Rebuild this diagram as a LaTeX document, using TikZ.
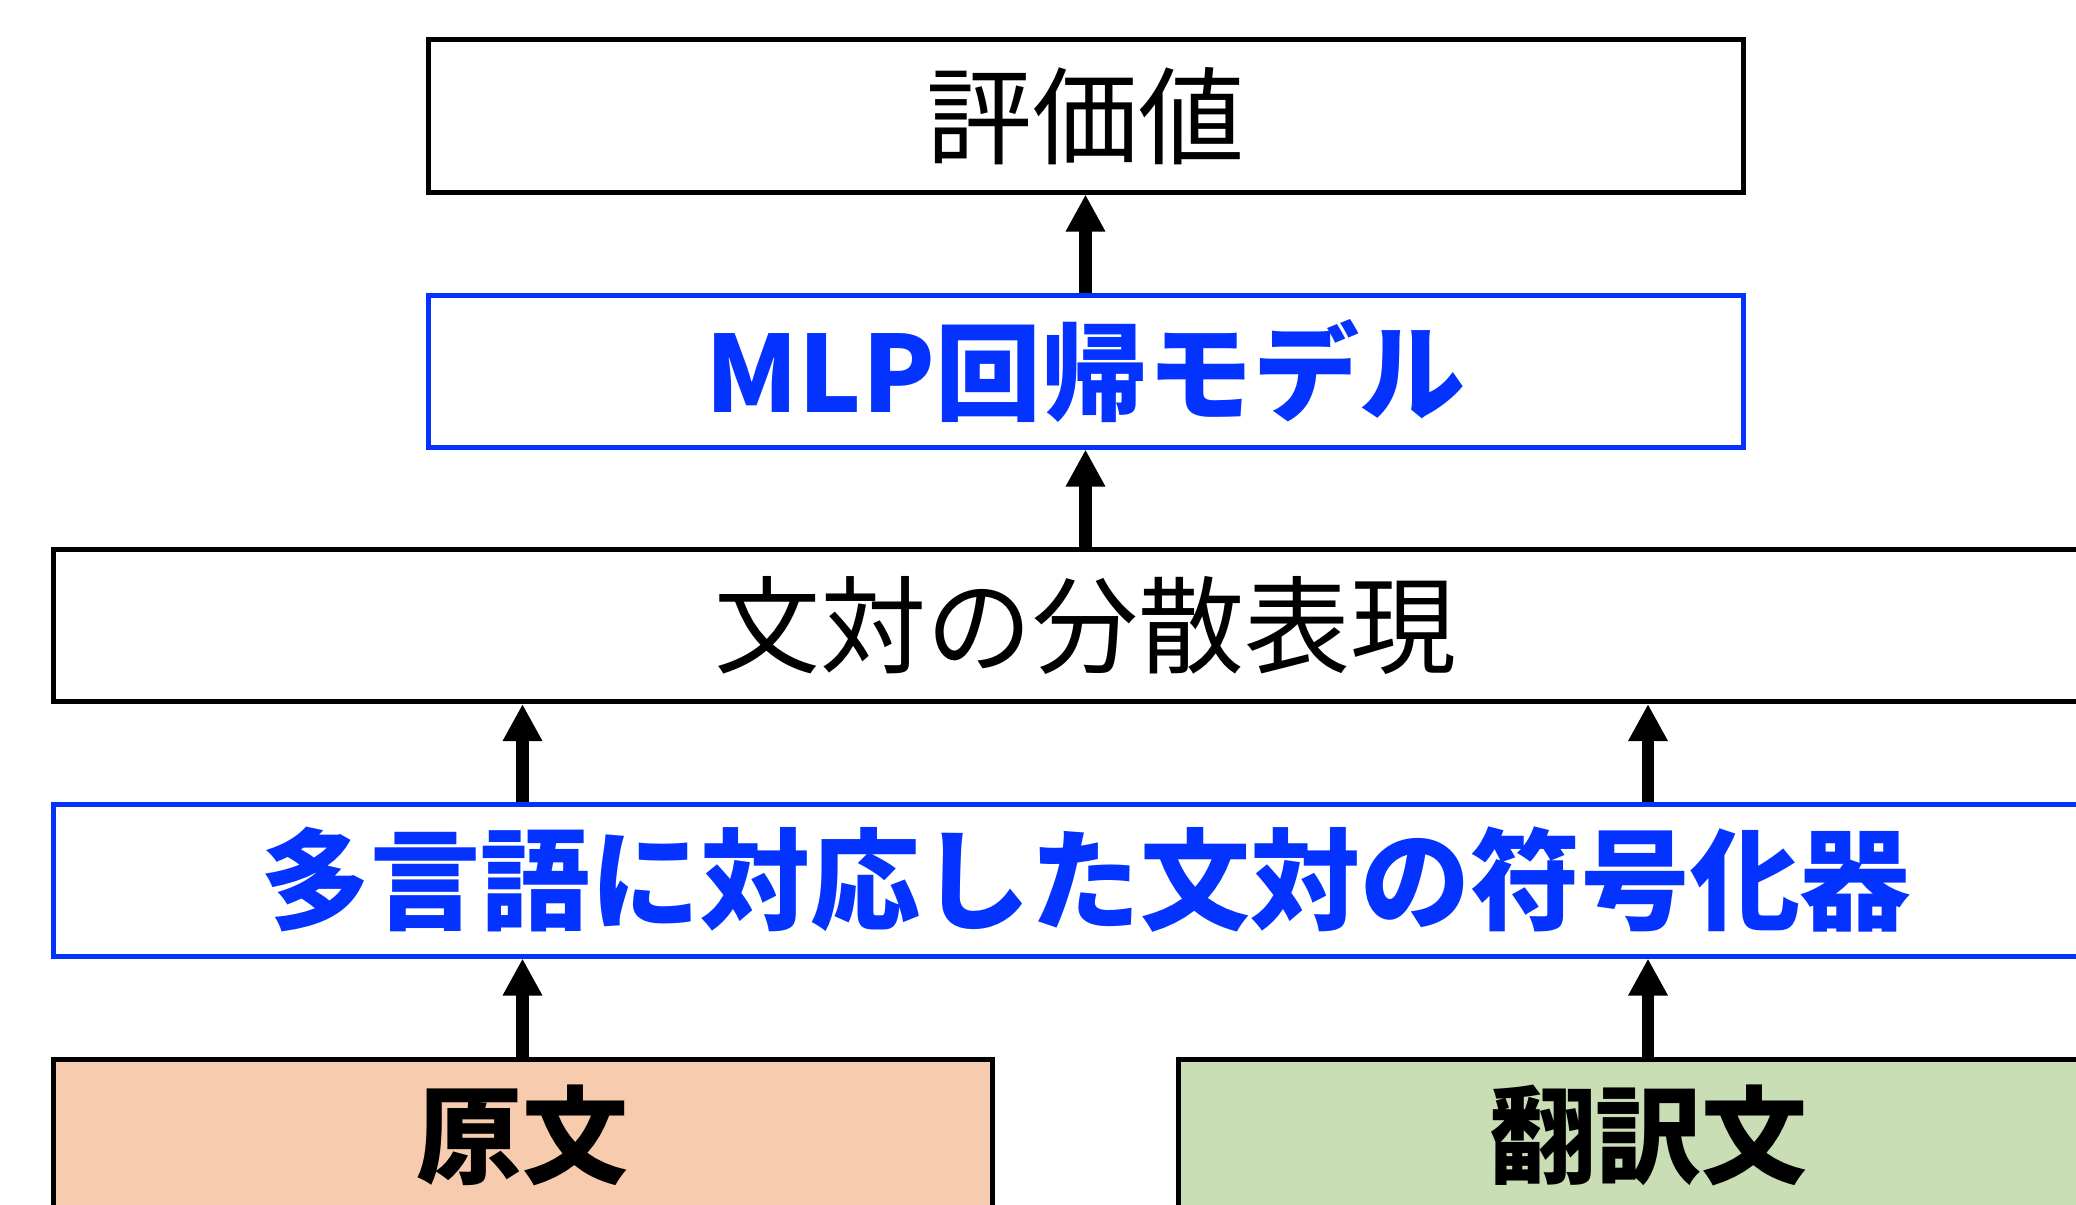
\documentclass[tikz,border=0pt]{standalone}
\usepackage{fontspec}
\usetikzlibrary{arrows.meta}
\newfontfamily\jp{Noto Sans CJK JP}
\definecolor{myblue}{RGB}{4,51,255}
\definecolor{myorange}{RGB}{247,203,173}
\definecolor{mygreen}{RGB}{201,222,181}
\tikzset{
  box/.style={draw=black, line width=2.5pt, rectangle, inner sep=0pt, minimum height=76pt},
  bluebox/.style={box, draw=myblue},
  lighttext/.style={font=\jp\fontsize{53}{60}\selectfont, text=black},
  boldtext/.style={font=\jp\bfseries\fontsize{53}{60}\selectfont, text=black},
  bluetext/.style={font=\jp\bfseries\fontsize{53}{60}\selectfont, text=myblue},
  conn/.style={line width=6.3pt, -{Triangle[width=18.5pt,length=18.5pt]}}
}
\begin{document}
\begin{tikzpicture}[x=0.5pt,y=-0.5pt]
\useasboundingbox (0,0) rectangle (2076,1204);
\clip (0,0) rectangle (2076,1204);
\node[box, lighttext, minimum width=657.5pt] (eval) at (1085.5,116) {評価値};
\node[bluebox, bluetext, minimum width=657.5pt] (mlp) at (1085.5,371) {MLP回帰モデル};
\node[box, lighttext, minimum width=1032.5pt] (rep) at (1085.5,625.5) {文対の分散表現};
\node[bluebox, bluetext, minimum width=1032.5pt, font=\jp\bfseries\fontsize{55}{62}\selectfont] (enc) at (1085.5,880) {多言語に対応した文対の符号化器};
\node[box, boldtext, fill=myorange, minimum width=469.5pt] (orig) at (522.5,1135) {原文};
\node[box, boldtext, fill=mygreen, minimum width=470pt] (trans) at (1648,1135) {翻訳文};
\draw[conn] (mlp.north) -- (eval.south);
\draw[conn] (rep.north) -- (mlp.south);
\draw[conn] (enc.north -| orig.north) -- (rep.south -| orig.north);
\draw[conn] (enc.north -| trans.north) -- (rep.south -| trans.north);
\draw[conn] (orig.north) -- (enc.south -| orig.north);
\draw[conn] (trans.north) -- (enc.south -| trans.north);
\end{tikzpicture}
\end{document}
